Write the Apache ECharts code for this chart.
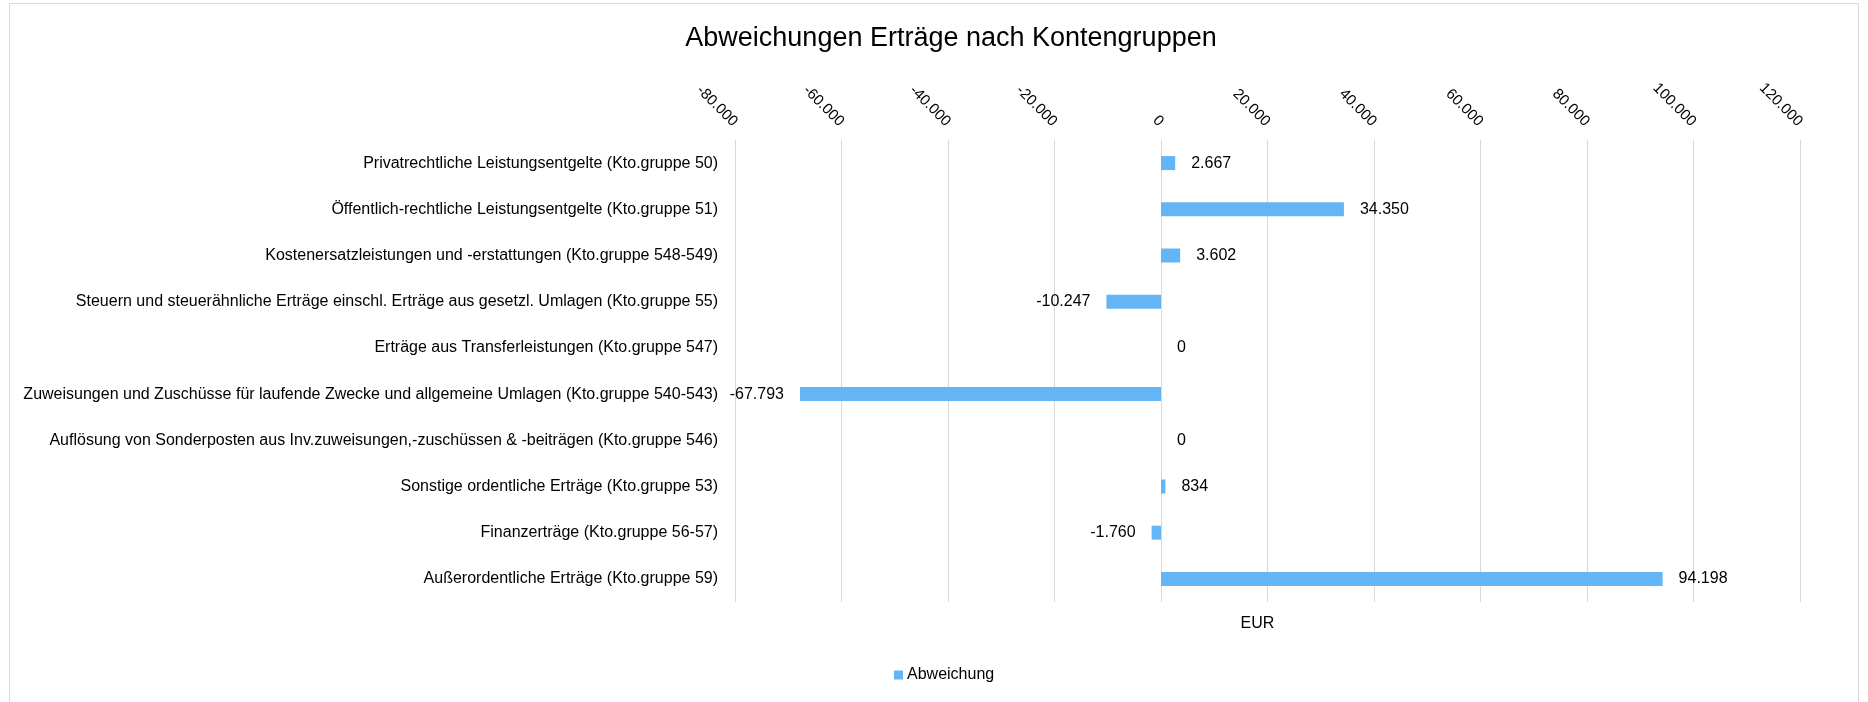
<!DOCTYPE html>
<html>
<head>
<meta charset="utf-8">
<script src="https://cdn.jsdelivr.net/npm/echarts@6/dist/echarts.min.js"></script>
<style>
    html, body { margin: 0; padding: 0; background: #fff; }
    #chart { width: 1868px; height: 702px; }
</style>
</head>
<body>
<div id="chart"></div>
<script>
var categories = [
    'Privatrechtliche Leistungsentgelte (Kto.gruppe 50)',
    'Öffentlich-rechtliche Leistungsentgelte (Kto.gruppe 51)',
    'Kostenersatzleistungen und -erstattungen (Kto.gruppe 548-549)',
    'Steuern und steuerähnliche Erträge einschl. Erträge aus gesetzl. Umlagen (Kto.gruppe 55)',
    'Erträge aus Transferleistungen (Kto.gruppe 547)',
    'Zuweisungen und Zuschüsse für laufende Zwecke und allgemeine Umlagen (Kto.gruppe 540-543)',
    'Auflösung von Sonderposten aus Inv.zuweisungen,-zuschüssen & -beiträgen (Kto.gruppe 546)',
    'Sonstige ordentliche Erträge (Kto.gruppe 53)',
    'Finanzerträge (Kto.gruppe 56-57)',
    'Außerordentliche Erträge (Kto.gruppe 59)'
];
var abweichung = [2667, 34350, 3602, -10247, 0, -67793, 0, 834, -1760, 94198];

var axisMin = -80000;
var axisMax = 120000;
var axisStep = 20000;

var barColor = '#63B5F6';
var gridColor = '#D9D9D9';
var fontName = 'Liberation Sans, Arial, sans-serif';

// 1.234 style (German thousands separator)
function fmt(v) {
    var s = Math.abs(v).toString().replace(/\B(?=(\d{3})+(?!\d))/g, '.');
    return (v < 0 ? '-' : '') + s;
}

var barData = abweichung.map(function (v) {
    return {
        value: v,
        label: { position: v < 0 ? 'left' : 'right' }
    };
});

var myChart = echarts.init(document.getElementById('chart'));
var option = {
    backgroundColor: '#fff',
    textStyle: { fontFamily: fontName },
    title: {
        text: 'Abweichungen Erträge nach Kontengruppen',
        left: 946,
        textAlign: 'center',
        top: 20,
        textStyle: {
            fontFamily: fontName,
            fontSize: 27,
            fontWeight: 'normal',
            color: '#000'
        }
    },
    legend: {
        data: ['Abweichung'],
        bottom: 14,
        left: 889,
        icon: 'rect',
        itemWidth: 9,
        itemHeight: 9,
        textStyle: { fontFamily: fontName, fontSize: 16, color: '#000', padding: [0, 0, 0, -1] }
    },
    grid: {
        left: 735,
        right: 68,
        top: 140,
        bottom: 100
    },
    xAxis: [
        {
            type: 'value',
            position: 'top',
            min: axisMin,
            max: axisMax,
            interval: axisStep,
            axisLine: { show: false },
            axisTick: { show: false },
            axisLabel: {
                rotate: 45,
                margin: 16,
                fontFamily: fontName,
                fontSize: 15,
                color: '#000',
                formatter: fmt
            },
            splitLine: { lineStyle: { color: gridColor, width: 1 } }
        },
        {
            type: 'value',
            position: 'bottom',
            min: axisMin,
            max: axisMax,
            name: 'EUR',
            nameLocation: 'middle',
            nameGap: 14,
            nameTextStyle: { fontFamily: fontName, fontSize: 16, color: '#000', padding: [0, 20, 0, 0] },
            axisLine: { show: false },
            axisTick: { show: false },
            axisLabel: { show: false },
            splitLine: { show: false }
        }
    ],
    yAxis: {
        type: 'category',
        data: categories,
        inverse: true,
        axisLine: { show: false },
        axisTick: { show: false },
        axisLabel: {
            margin: 17,
            fontFamily: fontName,
            fontSize: 16,
            color: '#000'
        }
    },
    series: [
        {
            name: 'Abweichung',
            type: 'bar',
            xAxisIndex: 0,
            data: barData,
            barWidth: 14,
            itemStyle: { color: barColor },
            label: {
                show: true,
                distance: 16,
                fontFamily: fontName,
                fontSize: 16,
                color: '#000',
                formatter: function (p) { return fmt(p.value); }
            }
        }
    ],
    graphic: [
        {
            type: 'rect',
            shape: { x: 9.5, y: 3.5, width: 1849, height: 720 },
            style: { fill: 'none', stroke: gridColor, lineWidth: 1 },
            silent: true
        }
    ]
};

myChart.setOption(option);
</script>
</body>
</html>
